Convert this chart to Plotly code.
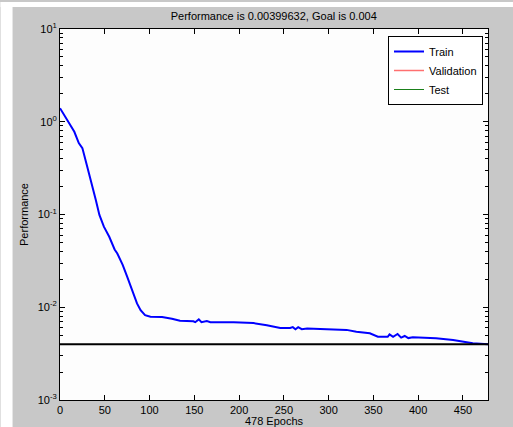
import plotly.graph_objects as go

epochs = [0, 10, 16, 21, 25, 30, 36, 40, 44, 49, 55, 61, 64, 70, 75, 81, 86, 90, 95, 101,
          114, 125, 134, 149, 151, 155, 158, 164, 168, 194, 216, 231, 246, 257, 260, 263,
          266, 270, 276, 298, 320, 331, 346, 355, 366, 368, 372, 377, 381, 385, 389, 394,
          420, 439, 452, 461, 478]
train_perf = [1.40, 0.96, 0.78, 0.59, 0.52, 0.34, 0.208, 0.143, 0.099, 0.074, 0.0575, 0.042,
              0.038, 0.0286, 0.0214, 0.0147, 0.011, 0.0093, 0.0082, 0.0079,
              0.00785, 0.0075, 0.00716, 0.00705, 0.0069, 0.0074, 0.0069, 0.0071, 0.0069,
              0.0069, 0.00675, 0.00638, 0.00597, 0.00597, 0.0061, 0.0058,
              0.0061, 0.0058, 0.0059, 0.00578, 0.0057, 0.00544, 0.00524, 0.00481, 0.00481,
              0.0051, 0.0048, 0.00515, 0.0047, 0.0049, 0.00465, 0.00474,
              0.00462, 0.00444, 0.00426, 0.0041, 0.004]
goal = 0.004
goal_x = [0, 478]
x_ticks = [0, 50, 100, 150, 200, 250, 300, 350, 400, 450]
y_ticks = [0.001, 0.01, 0.1, 1, 10]
y_ticktext = ["10<sup>-3</sup>", "10<sup>-2</sup>", "10<sup>-1</sup>",
              "10<sup>0</sup>", "10<sup>1</sup>"]
y_minor = [m * d for d in [0.001, 0.01, 0.1, 1] for m in range(2, 10)]
title_text = "Performance is 0.00399632, Goal is 0.004"

FONT = "Liberation Sans, Arial, sans-serif"

fig = go.Figure()
fig.add_trace(go.Scatter(x=epochs, y=train_perf, mode="lines", name="Train",
                         line=dict(color="#0000ff", width=2)))
fig.add_trace(go.Scatter(x=[None], y=[None], mode="lines", name="Validation",
                         line=dict(color="#ff7070", width=1.5)))
fig.add_trace(go.Scatter(x=[None], y=[None], mode="lines", name="Test",
                         line=dict(color="#1a801a", width=1)))
fig.add_trace(go.Scatter(x=goal_x, y=[goal, goal], mode="lines", showlegend=False,
                         line=dict(color="#000000", width=2)))

W, H = 513, 427
L, R, T, B = 59.5, 25, 29, 27
pw = W - L - R
ph = H - T - B

fig.update_layout(
    width=W, height=H,
    margin=dict(l=L, r=R, t=T, b=B, pad=0, autoexpand=False),
    paper_bgcolor="#c8c8c8",
    plot_bgcolor="#fdfdfd",
    font=dict(family=FONT, size=11, color="#000000"),
    title=dict(text=title_text, x=(L + pw / 2) / W, xanchor="center",
               y=1 - 16 / H, yanchor="middle", font=dict(size=11)),
    showlegend=True,
    legend=dict(x=(483 - L) / pw, xanchor="right", y=(400 - 36) / ph, yanchor="top",
                bgcolor="#ffffff", bordercolor="#000000", borderwidth=1,
                font=dict(size=11), tracegroupgap=0),
    xaxis=dict(range=[0, 478], tickvals=x_ticks, ticks="inside", ticklen=5,
               showgrid=False, zeroline=False, showline=True, linecolor="#000000",
               linewidth=1, mirror="allticks", tickcolor="#000000", automargin=False,
               title=dict(text="478 Epochs", standoff=3, font=dict(size=11))),
    yaxis=dict(type="log", range=[-3, 1], tickmode="array", tickvals=y_ticks,
               ticktext=y_ticktext, ticks="inside", ticklen=5, showgrid=False,
               zeroline=False, showline=True, linecolor="#000000", linewidth=1,
               mirror="allticks", tickcolor="#000000", automargin=False,
               minor=dict(tickmode="array", tickvals=y_minor, ticks="inside", ticklen=3,
                          tickcolor="#000000", showgrid=False),
               title=dict(text="Performance", standoff=6, font=dict(size=11))),
    shapes=[
        dict(type="rect", xref="paper", yref="paper",
             x0=-L / pw, x1=(12 - L) / pw, y0=-B / ph, y1=(H - T) / ph,
             fillcolor="#ffffff", line=dict(width=0), layer="below"),
        dict(type="rect", xref="paper", yref="paper",
             x0=-L / pw, x1=(W - L) / pw, y0=(H - T - 5) / ph, y1=(H - T) / ph,
             fillcolor="#ffffff", line=dict(width=0), layer="below"),
    ],
)

fig.write_html(
    "out.html",
    config={"displayModeBar": False},
    post_script="document.body.style.margin='0';document.body.style.overflow='hidden';",
)
